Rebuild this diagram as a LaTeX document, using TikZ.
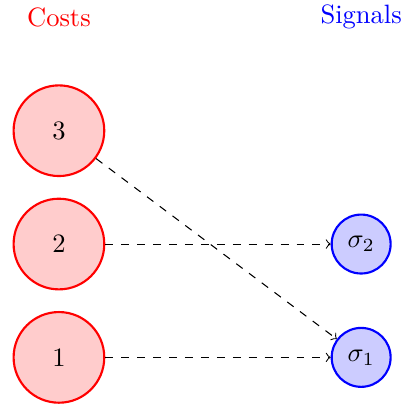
\documentclass[tikz,border=0pt]{standalone}
\begin{document}
\begin{tikzpicture}
  \tikzset{cost/.style={circle,draw=red,thick,fill=red!20,minimum size=1.2cm},
           signal/.style={circle,draw=blue,thick,fill=blue!20,minimum size=0.78cm,inner sep=0pt}}
  \useasboundingbox (-0.78,-0.64) rectangle (4.62,4.73);
  \node[red] (costs) at (0,4.5) {Costs};
  \node[blue] (signals) at (4,4.5) {Signals};
  \node[cost] (c1) at (0,0) {1};
  \node[cost] (c2) at (0,1.5) {2};
  \node[cost] (c3) at (0,3) {3};
  \node[signal] (s1) at (4,0) {$\sigma_1$};
  \node[signal] (s2) at (4,1.5) {$\sigma_2$};
  \draw[->,dashed] (c3) -- (s1);   % crossing edge
  \draw[->,dashed] (c2) -- (s2);
  \draw[->,dashed] (c1) -- (s1);
\end{tikzpicture}
\end{document}
